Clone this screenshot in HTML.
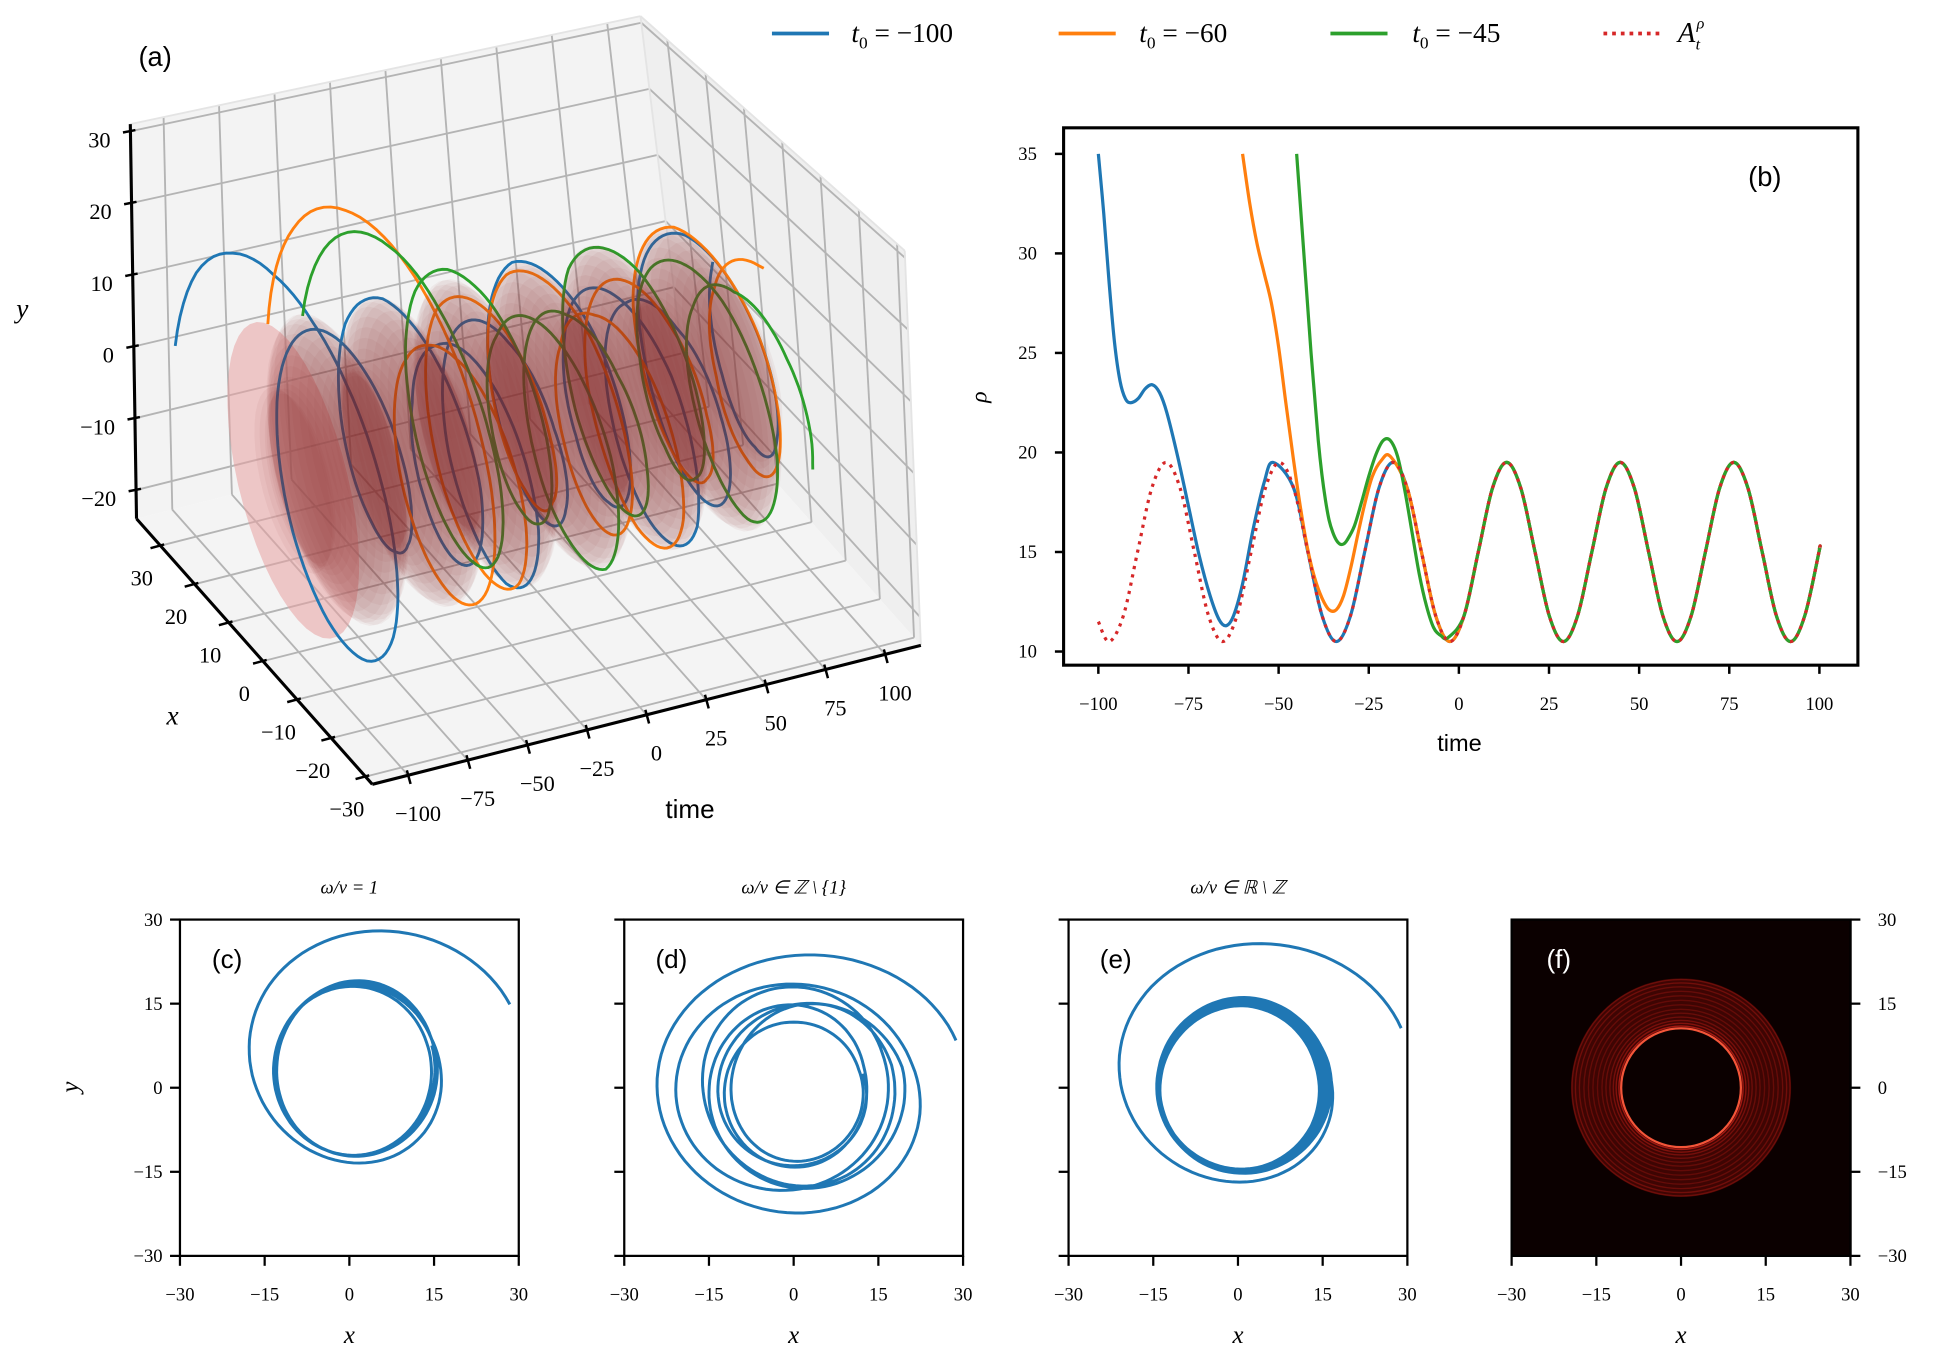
<!DOCTYPE html>
<html><head><meta charset="utf-8">
<style>
html,body{margin:0;padding:0;background:#fff;}
svg{display:block;}
text{font-family:"Liberation Serif",serif;}
.sans{font-family:"Liberation Sans",sans-serif;}
</style></head>
<body>
<svg id="fig" xmlns="http://www.w3.org/2000/svg" width="1946" height="1361" viewBox="0 0 1568 1096.7" preserveAspectRatio="none">
<g id="g3d"></g>
<g id="gb"></g>
<g id="gleg"></g>
<g id="gc"></g>
<g id="gd"></g>
<g id="ge"></g>
<g id="gf"></g>
</svg>
<script>
// ---------- data: panel (b) rho(t) ----------
const steadyT = [-97,-93.06,-89.13,-85.19,-81.25,-77.31,-73.38,-69.44,-65.5,-61.56,-57.63,-53.69,-49.75,-45.81,-41.88,-37.94,-34,-30.06,-26.13,-22.19,-18.25,-14.31,-10.38,-6.44,-2.5,1.44,5.38,9.31,13.25,17.19,21.13,25.06,29,32.94,36.88,40.81,44.75,48.69,52.63,56.56,60.5,64.44,68.38,72.31,76.25,80.19,84.13,88.06,92,95.94,99.88,100];
const steadyV = [10.5,11.8,15,18.2,19.5,18.2,15,11.8,10.5,11.8,15,18.2,19.5,18.2,15,11.8,10.5,11.8,15,18.2,19.5,18.2,15,11.8,10.5,11.8,15,18.2,19.5,18.2,15,11.8,10.5,11.8,15,18.2,19.5,18.2,15,11.8,10.5,11.8,15,18.2,19.5,18.2,15,11.8,10.5,11.8,15,15.2];
const redHeadT = [-100];
const redHeadV = [11.5];
const blueHeadT = [-100,-98.5,-97,-95.5,-94,-92.5,-91,-89,-87,-85,-83,-81,-78,-75,-72,-69,-66.5,-64.5,-62.5,-60,-57,-54,-51.5];
const blueHeadV = [35,32,28.5,25.5,23.6,22.7,22.5,22.7,23.2,23.4,23.0,22.0,19.8,17.3,14.8,12.8,11.6,11.3,11.8,13.4,16.2,18.5,19.5];
const orangeHeadT = [-60,-58,-56,-54,-52,-50,-48,-46,-44,-42,-40,-38,-36,-34,-32,-30,-28,-26,-24,-21.5,-19];
const orangeHeadV = [35,32.5,30.5,29,27.5,25.3,22.5,19.8,17.3,15.2,13.7,12.7,12.1,12.1,12.8,14.2,15.9,17.5,18.8,19.6,19.8];
const greenHeadT = [-45,-44,-43,-42,-41,-40,-39,-38,-37,-36,-35,-34,-33,-32,-31,-29,-27,-25,-23,-21,-19,-17,-15,-13,-11,-9,-7,-5,-3];
const greenHeadV = [35,32.5,30,27.5,25,22.8,20.6,18.9,17.6,16.6,16,15.6,15.4,15.4,15.6,16.3,17.5,18.8,19.9,20.6,20.6,19.8,18.1,16.0,13.9,12.3,11.2,10.8,10.7];
const legendLabels = ["−100","−60","−45"];
const bXTicks = [-100,-75,-50,-25,0,25,50,75,100];
const bYTicks = [10,15,20,25,30,35];

// ---------- data: bottom panels (loops: cx, cy, rx, ry in data units) ----------
const cLoopCx = [4,1.5,1,1.2,0.6,0.8];
const cLoopCy = [7,3.5,3,3.4,3,3.2];
const cLoopRx = [26,13.8,14.6,14.2,13.9,14.4];
const cLoopRy = [23,15.8,15.2,15.6,15,15.3];
const dLoopCx = [2,0,-1.5,3,1,-1,2.5,0.5];
const dLoopCy = [1.5,-2,1,-1,0,-0.5,-1.5,-0.2];
const dLoopRx = [28,22,18,15,11,14,17.5,12];
const dLoopRy = [23.5,20.5,17.5,17,11,15,17.5,11.5];
const eLoopCx = [2,0.5,1,0,1.5,0.5,1,0.2,1.2,0.8,0.3,1.4,0.6,1,0.2,1.1,0.7];
const eLoopCy = [4,0.5,0,0.8,-0.3,0.5,0.2,-0.4,0.6,0,0.4,-0.2,0.3,0.1,-0.1,0.5,0];
const eLoopRx = [28,15.5,14.2,15.2,14.5,15.8,14,15,14.6,15.4,14.3,15.1,14.8,15.6,14.1,15.3,14.7];
const eLoopRy = [24,16,14.5,15.4,14.8,15.8,14.4,15.2,15,15.6,14.6,15.3,14.9,15.5,14.5,15.1,14.8];
const fRingRadii = [10.6,11.0,11.5,12,12.6,13.3,14,14.8,15.6,16.4,17.2,18,18.7,19.3];
const fRingAlpha = [0.95,0.6,0.4,0.32,0.28,0.25,0.23,0.22,0.22,0.23,0.24,0.26,0.3,0.28];
const bottomTicks = [-30,-15,0,15,30];
const OMEGA = 2*Math.PI/22;

// ---------- helpers ----------
const NS="http://www.w3.org/2000/svg";
function mk(parent,tag,attrs,txt){const e=document.createElementNS(NS,tag);for(const k in attrs)e.setAttribute(k,attrs[k]);if(txt!==undefined)e.textContent=txt;parent.appendChild(e);return e;}
function crPath(pts){let d="M"+pts[0][0].toFixed(2)+","+pts[0][1].toFixed(2);
 for(let i=0;i<pts.length-1;i++){const p0=pts[Math.max(i-1,0)],p1=pts[i],p2=pts[i+1],p3=pts[Math.min(i+2,pts.length-1)];
 const c1=[p1[0]+(p2[0]-p0[0])/6,p1[1]+(p2[1]-p0[1])/6],c2=[p2[0]-(p3[0]-p1[0])/6,p2[1]-(p3[1]-p1[1])/6];
 d+="C"+c1[0].toFixed(2)+","+c1[1].toFixed(2)+" "+c2[0].toFixed(2)+","+c2[1].toFixed(2)+" "+p2[0].toFixed(2)+","+p2[1].toFixed(2);}return d;}
function seriesFrom(hT,hV){const T=hT.slice(),V=hV.slice();const last=hT[hT.length-1];
 for(let i=0;i<steadyT.length;i++){if(steadyT[i]>last+2){T.push(steadyT[i]);V.push(steadyV[i]);}}return [T,V];}
function interp(T,V,t){if(t<=T[0])return V[0];for(let i=0;i<T.length-1;i++){if(t<=T[i+1]){const s=(t-T[i])/(T[i+1]-T[i]);return V[i]+s*(V[i+1]-V[i]);}}return V[V.length-1];}
const blueS=seriesFrom(blueHeadT,blueHeadV), orangeS=seriesFrom(orangeHeadT,orangeHeadV), greenS=seriesFrom(greenHeadT,greenHeadV), redS=[redHeadT.concat(steadyT),redHeadV.concat(steadyV)];
const COL={blue:"#1f77b4",orange:"#ff7f0e",green:"#2ca02c",red:"#d62728"};

// ---------- panel (b) ----------
(function(){
 const g=document.getElementById('gb');
 const bx=t=>885+(t+100)*2.905, by=v=>124+(35-v)*16.04;
 const series=[[blueS,COL.blue,'rho-line-t0-100'],[orangeS,COL.orange,'rho-line-t0-60'],[greenS,COL.green,'rho-line-t0-45']];
 series.forEach(([s,c,n])=>{const p=mk(g,'path',{d:crPath(s[0].map((t,i)=>[bx(t),by(s[1][i])])),fill:'none',stroke:c,'stroke-width':2.6});
  
  });
 const r=mk(g,'path',{d:crPath(redS[0].map((t,i)=>[bx(t),by(redS[1][i])])),fill:'none',stroke:COL.red,'stroke-width':2.6,'stroke-dasharray':'2.6,4.2'});
 
 
 const fr=mk(g,'rect',{x:857,y:103,width:640,height:433,fill:'none',stroke:'#000','stroke-width':2.5});
 
 
 bXTicks.forEach(v=>{mk(g,'line',{x1:bx(v),x2:bx(v),y1:536,y2:543,stroke:'#000','stroke-width':2});
  const t=mk(g,'text',{x:bx(v),y:572,'font-size':15,'text-anchor':'middle'},String(v).replace('-','−'));
  
  });
 bYTicks.forEach(v=>{mk(g,'line',{x1:850,x2:857,y1:by(v),y2:by(v),stroke:'#000','stroke-width':2});
  const t=mk(g,'text',{x:828,y:by(v)+5,'font-size':15,'text-anchor':'middle'},String(v));
  
  });
 const xl=mk(g,'text',{x:1176,y:605,'font-size':19,'text-anchor':'middle',class:'sans'},'time');
 
 
 const yl=mk(g,'text',{x:0,y:0,'font-size':19,'font-style':'italic','text-anchor':'middle',transform:'translate(795,320) rotate(-90)'},'ρ');
 
 
 const pl=mk(g,'text',{x:1422,y:150,'font-size':22,'text-anchor':'middle',class:'sans'},'(b)');
 
 
})();

// ---------- legend ----------
(function(){
 const g=document.getElementById('gleg');
 const cols=[COL.blue,COL.orange,COL.green];const xs=[622,853,1072];const tx=[686,918,1138];
 for(let i=0;i<3;i++){const l=mk(g,'line',{x1:xs[i],x2:xs[i]+46,y1:27,y2:27,stroke:cols[i],'stroke-width':3});
  
  
  const t=mk(g,'text',{x:tx[i],y:34,'font-size':22});
  
  
  t.innerHTML='<tspan font-style="italic">t</tspan><tspan font-size="14" dy="5">0</tspan><tspan dy="-5"> = '+legendLabels[i]+'</tspan>';}
 const l=mk(g,'line',{x1:1292,x2:1338,y1:27,y2:27,stroke:COL.red,'stroke-width':3,'stroke-dasharray':'3,4'});
 
 
 const t=mk(g,'text',{x:1352,y:34,'font-size':23,'font-style':'italic'});
 
 
 t.innerHTML='A<tspan font-size="13" dx="1" dy="-11">ρ</tspan><tspan font-size="13" dx="-7" dy="17">t</tspan>';
})();

// ---------- panel (a) 3D ----------
(function(){
 const g=document.getElementById('g3d');
 const TMIN=-115,TMAX=115,XMIN=-32,XMAX=37,YMIN=-24,YMAX=31;
 const B=[300,632],Vt=[442,-112],Vx=[-190,-214],Vy=[-13,-318];
 function P(t,x,y){const a=(t-TMIN)/(TMAX-TMIN),b=(x-XMIN)/(XMAX-XMIN),c=(y-YMIN)/(YMAX-YMIN);
  const persp=1-0.07*b*c;
  return [B[0]+a*Vt[0]*persp+b*Vx[0]+c*Vy[0]+8*b*c, B[1]+a*Vt[1]+b*Vx[1]+c*Vy[1]+(a*b*c)*25];}
 const poly=pts=>pts.map(p=>p[0].toFixed(1)+","+p[1].toFixed(1)).join(" ");
 const back=mk(g,'polygon',{points:poly([P(TMIN,XMAX,YMIN),P(TMAX,XMAX,YMIN),P(TMAX,XMAX,YMAX),P(TMIN,XMAX,YMAX)]),fill:'#f3f3f3'});
 
 
 const right=mk(g,'polygon',{points:poly([P(TMAX,XMIN,YMIN),P(TMAX,XMAX,YMIN),P(TMAX,XMAX,YMAX),P(TMAX,XMIN,YMAX)]),fill:'#efefef'});
 
 
 const floor=mk(g,'polygon',{points:poly([P(TMIN,XMIN,YMIN),P(TMAX,XMIN,YMIN),P(TMAX,XMAX,YMIN),P(TMIN,XMAX,YMIN)]),fill:'#f4f4f4'});
 
 
 const gl=(a,b)=>mk(g,'line',{x1:a[0],y1:a[1],x2:b[0],y2:b[1],stroke:'#b4b4b4','stroke-width':1.5});
 const tT=[-100,-75,-50,-25,0,25,50,75,100],tX=[-30,-20,-10,0,10,20,30],tY=[-20,-10,0,10,20,30];
 tT.forEach(t=>{gl(P(t,XMAX,YMIN),P(t,XMAX,YMAX));gl(P(t,XMIN,YMIN),P(t,XMAX,YMIN));});
 tY.forEach(y=>{gl(P(TMIN,XMAX,y),P(TMAX,XMAX,y));gl(P(TMAX,XMIN,y),P(TMAX,XMAX,y));});
 tX.forEach(x=>{gl(P(TMAX,x,YMIN),P(TMAX,x,YMAX));gl(P(TMIN,x,YMIN),P(TMAX,x,YMIN));});
 [[P(TMIN,XMAX,YMAX),P(TMAX,XMAX,YMAX)],[P(TMAX,XMAX,YMAX),P(TMAX,XMIN,YMAX)],[P(TMAX,XMAX,YMIN),P(TMAX,XMAX,YMAX)],[P(TMAX,XMIN,YMIN),P(TMAX,XMIN,YMAX)]].forEach(e=>mk(g,'line',{x1:e[0][0],y1:e[0][1],x2:e[1][0],y2:e[1][1],stroke:'#e4e4e4','stroke-width':1.5}));
 const cap=[];for(let k=0;k<=48;k++){const th=k/48*2*Math.PI;cap.push(P(-100,19.5*Math.cos(th),19.5*Math.sin(th)));}
 mk(g,'polygon',{points:poly(cap),fill:'#e8a0a0','fill-opacity':0.55});
 const traj=[[blueS,-100,COL.blue,'traj3d-t0-100'],[orangeS,-60,COL.orange,'traj3d-t0-60'],[greenS,-45,COL.green,'traj3d-t0-45']];
 traj.forEach(([s,t0,c,n])=>{const pts=[];for(let t=t0;t<=100.001;t+=0.25){const r=interp(s[0],s[1],t),th=OMEGA*(t-t0);pts.push(P(t,r*Math.cos(th),r*Math.sin(th)));}
  const p=mk(g,'polyline',{points:poly(pts),fill:'none',stroke:c,'stroke-width':2.3,'stroke-linejoin':'round'});
  
  });
 const tg=mk(g,'g',{});
 
 
 for(let t=-100;t<=93;t+=1.5){const r=interp(redS[0],redS[1],t);const pts=[];for(let k=0;k<=40;k++){const th=k/40*2*Math.PI;pts.push(P(t,r*Math.cos(th),r*Math.sin(th)));}
  mk(tg,'polygon',{points:poly(pts),fill:'#8a2a2a','fill-opacity':0.05});}
 const ax=(a,b,n)=>{const l=mk(g,'line',{x1:a[0],y1:a[1],x2:b[0],y2:b[1],stroke:'#000','stroke-width':2.5});};
 ax(P(TMIN,XMAX,YMIN),P(TMIN,XMAX,YMAX),'y-axis-3d');
 ax(P(TMIN,XMAX,YMIN),P(TMIN,XMIN,YMIN),'x-axis-3d');
 ax(P(TMIN,XMIN,YMIN),P(TMAX,XMIN,YMIN),'time-axis-3d');
 tY.forEach(y=>{const p=P(TMIN,XMAX,y);mk(g,'line',{x1:p[0]-6,y1:p[1]+1,x2:p[0]+4,y2:p[1]-1,stroke:'#000','stroke-width':2});
  const t=mk(g,'text',{x:p[0]-16,y:p[1]+13,'font-size':18,'text-anchor':'end'},String(y).replace('-','−'));
  
  });
 tX.forEach(x=>{const p=P(TMIN,x,YMIN);mk(g,'line',{x1:p[0]-8,y1:p[1]+2,x2:p[0]+3,y2:p[1]-1,stroke:'#000','stroke-width':2});
  const t=mk(g,'text',{x:p[0]-15,y:p[1]+32,'font-size':18,'text-anchor':'middle'},String(x).replace('-','−'));
  
  });
 tT.forEach(tt=>{const p=P(tt,XMIN,YMIN);mk(g,'line',{x1:p[0]+2,y1:p[1]+7,x2:p[0]-1,y2:p[1]-4,stroke:'#000','stroke-width':2});
  const t=mk(g,'text',{x:p[0]+8,y:p[1]+37,'font-size':18,'text-anchor':'middle'},String(tt).replace('-','−'));
  
  });
 const l1=mk(g,'text',{x:18,y:256,'font-size':22,'font-style':'italic','text-anchor':'middle'},'y');
 
 
 const l2=mk(g,'text',{x:139,y:584,'font-size':22,'font-style':'italic','text-anchor':'middle'},'x');
 
 
 const l3=mk(g,'text',{x:556,y:659,'font-size':21,'text-anchor':'middle',class:'sans'},'time');
 
 
 const l4=mk(g,'text',{x:125,y:53,'font-size':22,'text-anchor':'middle',class:'sans'},'(a)');
 
 
})();

// ---------- bottom panels ----------
function bottomPanel(id,x0,label,title,loops,a0,showLeftLabels,showRightAxis,dark){
 const g=document.getElementById(id);const x1=x0+273,y0=741,y1=1012;
 const X=v=>x0+(v+30)/60*273, Y=v=>y1-(v+30)/60*271;
 const clipId='clip'+id;const cp=mk(g,'clipPath',{id:clipId});mk(cp,'rect',{x:x0,y:y0,width:273,height:271});
 if(dark){const bg=mk(g,'rect',{x:x0,y:y0,width:274,height:271,fill:'#0b0000'});
  
  
  const an=mk(g,'path',{d:'',fill:'#3e0503','fill-rule':'evenodd'});
  const ro=19.5,ri=10.6;
  an.setAttribute('d',`M${X(ro)},${Y(0)} A${ro/60*273},${ro/60*271} 0 1 0 ${X(-ro)},${Y(0)} A${ro/60*273},${ro/60*271} 0 1 0 ${X(ro)},${Y(0)} Z M${X(ri)},${Y(0)} A${ri/60*273},${ri/60*271} 0 1 0 ${X(-ri)},${Y(0)} A${ri/60*273},${ri/60*271} 0 1 0 ${X(ri)},${Y(0)} Z`);
  
  
  fRingRadii.forEach((r,i)=>{const e=mk(g,'ellipse',{cx:X(0),cy:Y(0),rx:r/60*273,ry:r/60*271,fill:'none',stroke:i===0?'#ff5a3c':'#e8261c','stroke-opacity':fRingAlpha[i],'stroke-width':i===0?1.8:1.1});
   
   });
 } else {
  const [cx,cy,rx,ry]=loops;const pts=[];const n=cx.length;
  for(let k=0;k<n-1;k++){for(let s=0;s<1;s+=0.01){const th=a0+2*Math.PI*(k+s);const L=(arr)=>arr[k]+(arr[k+1]-arr[k])*s;
   pts.push([X(L(cx)+L(rx)*Math.cos(th)),Y(L(cy)+L(ry)*Math.sin(th))]);}}
  const p=mk(g,'polyline',{points:pts.map(p=>p[0].toFixed(1)+','+p[1].toFixed(1)).join(' '),fill:'none',stroke:COL.blue,'stroke-width':2.4,'clip-path':`url(#${clipId})`});
  
  
 }
 const fr=mk(g,'rect',{x:x0,y:y0,width:273,height:271,fill:'none',stroke:'#000','stroke-width':1.8});
 
 
 bottomTicks.forEach(v=>{mk(g,'line',{x1:X(v),x2:X(v),y1:y1,y2:y1+8,stroke:'#000','stroke-width':1.8});
  const t=mk(g,'text',{x:X(v),y:y1+36,'font-size':15,'text-anchor':'middle'},String(v).replace('-','−'));
  
  
  if(showRightAxis){mk(g,'line',{x1:x1,x2:x1+8,y1:Y(v),y2:Y(v),stroke:'#000','stroke-width':1.8});
   const tr=mk(g,'text',{x:x1+22,y:Y(v)+5,'font-size':15,'text-anchor':'start'},String(v).replace('-','−'));
   
   }
  else{mk(g,'line',{x1:x0-8,x2:x0,y1:Y(v),y2:Y(v),stroke:'#000','stroke-width':1.8});
   if(showLeftLabels){const tl=mk(g,'text',{x:x0-14,y:Y(v)+5,'font-size':15,'text-anchor':'end'},String(v).replace('-','−'));
    
    }}});
 const xl=mk(g,'text',{x:(x0+x1)/2,y:1082,'font-size':20,'font-style':'italic','text-anchor':'middle'},'x');
 
 
 const pl=mk(g,'text',{x:x0+38,y:780,'font-size':21,'text-anchor':'middle',class:'sans',style:'fill:'+(dark?'#ffffff':'#000000')},label);
 
 
 if(title){const tt=mk(g,'text',{x:(x0+x1)/2,y:720,'font-size':15,'font-style':'italic','text-anchor':'middle'},title);
  
  }
}
bottomPanel('gc',145,'(c)','ω/ν = 1',[cLoopCx,cLoopCy,cLoopRx,cLoopRy],0.35,true,false,false);
bottomPanel('gd',503,'(d)','ω/ν ∈ ℤ \\ {1}',[dLoopCx,dLoopCy,dLoopRx,dLoopRy],0.3,false,false,false);
bottomPanel('ge',861,'(e)','ω/ν ∈ ℝ \\ ℤ',[eLoopCx,eLoopCy,eLoopRx,eLoopRy],0.28,false,false,false);
bottomPanel('gf',1218,'(f)',null,null,0,false,true,true);
(function(){const g=document.getElementById('gc');const t=mk(g,'text',{x:0,y:0,'font-size':20,'font-style':'italic','text-anchor':'middle',transform:'translate(63,876) rotate(-90)'},'y');
 
 })();
</script>
</body></html>
